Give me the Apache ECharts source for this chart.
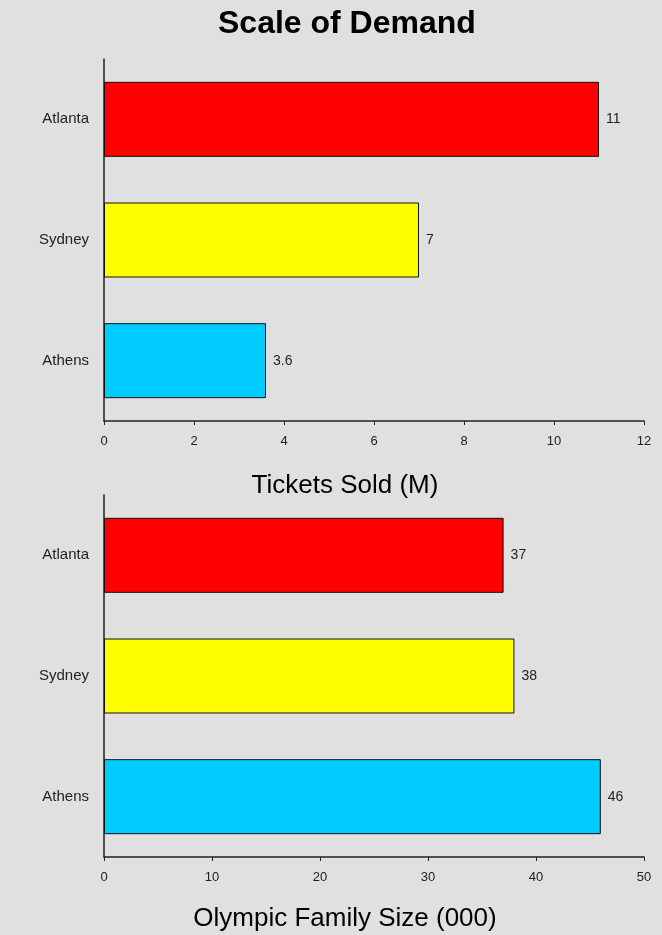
<!DOCTYPE html>
<html><head><meta charset="utf-8">
<script src="https://cdn.jsdelivr.net/npm/echarts@6/dist/echarts.min.js"></script>
<style>html,body{margin:0;padding:0;background:#e0e0e0;}#c{width:662px;height:935px;}</style>
</head><body><div id="c"></div>
<script>
const categories = ['Athens', 'Sydney', 'Atlanta'];
const barColors = ['#00ccff', '#ffff00', '#ff0000'];
const ticketsSold = [3.6, 7, 11];
const familySize = [46, 38, 37];
const titleText = 'Scale of Demand';
const axisName1 = 'Tickets Sold (M)';
const axisName2 = 'Olympic Family Size (000)';

const font = 'Liberation Sans, Arial, sans-serif';
function mkData(vals){
  return vals.map((v,i)=>({value:v, itemStyle:{color:barColors[i]}}));
}
function xAxis(idx, max, interval, name, gap){
  return {gridIndex:idx, type:'value', min:0, max:max, interval:interval,
    name:name, nameLocation:'middle', nameGap:gap,
    nameTextStyle:{fontFamily:font, fontSize:26, color:'#000', padding:[0,58,0,0]},
    axisLine:{show:true, lineStyle:{color:'#222', width:1.5}},
    axisTick:{show:true, length:4, lineStyle:{color:'#222'}},
    axisLabel:{fontFamily:font, fontSize:13, color:'#222', margin:14},
    splitLine:{show:false}};
}
function yAxis(idx){
  return {gridIndex:idx, type:'category', data:categories,
    axisLine:{show:true, lineStyle:{color:'#222', width:1.5}},
    axisTick:{show:false},
    axisLabel:{fontFamily:font, fontSize:15, color:'#222', margin:15}};
}
function series(idx, vals){
  return {type:'bar', xAxisIndex:idx, yAxisIndex:idx, data:mkData(vals),
    barWidth:75,
    itemStyle:{borderColor:'#111', borderWidth:1},
    label:{show:true, position:'right', distance:7, fontFamily:font, fontSize:14, color:'#222'},
    emphasis:{disabled:true}};
}
const chart = echarts.init(document.getElementById('c'));
chart.setOption({
  backgroundColor:'#e0e0e0',
  animation:false,
  title:{text:titleText, left:213, top:3,
    textStyle:{fontFamily:font, fontSize:32, fontWeight:'bold', color:'#000'}},
  grid:[
    {left:104, right:18, top:59, height:362},
    {left:104, right:18, top:495, height:362}
  ],
  xAxis:[xAxis(0, 12, 2, axisName1, 52), xAxis(1, 50, 10, axisName2, 49)],
  yAxis:[yAxis(0), yAxis(1)],
  series:[series(0, ticketsSold), series(1, familySize)]
});
</script></body></html>
